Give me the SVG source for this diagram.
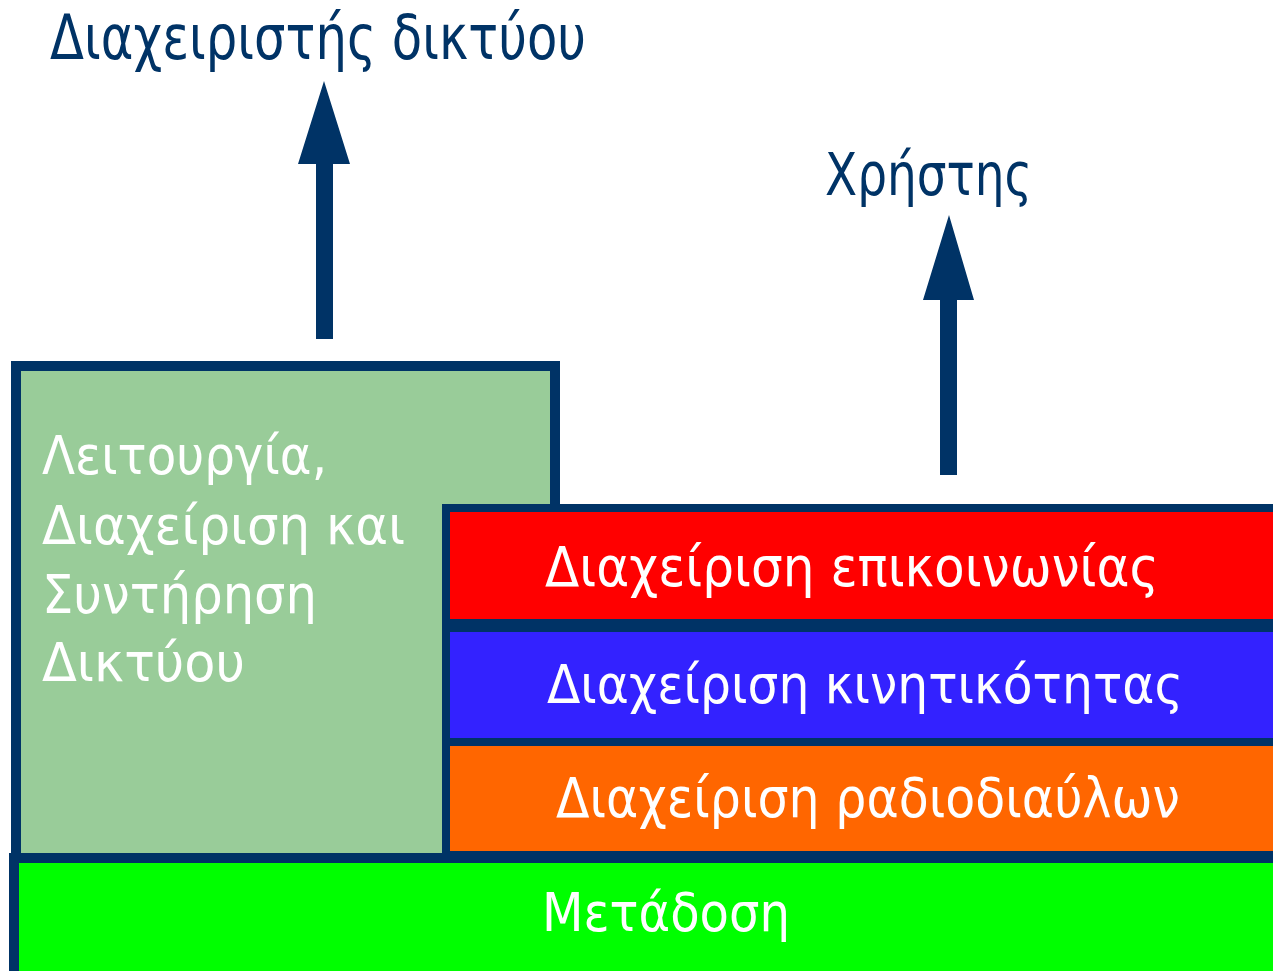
<svg xmlns="http://www.w3.org/2000/svg" width="1273" height="971" viewBox="0 0 1273 971">
<defs>
<style>
.box{stroke:#003366;}
.lbl{font-family:"DejaVu Sans","Liberation Sans",sans-serif;fill:#ffffff;}
.mid{text-anchor:middle;}
.head{font-family:"DejaVu Sans","Liberation Sans",sans-serif;fill:#003366;}
.arrow{fill:#003366;}
</style>
</defs>
<rect width="1273" height="971" fill="#ffffff"/>
<g id="node-lsm">
<rect class="box" x="16" y="366" width="539" height="500" fill="#99CC99" stroke-width="10"/>
<text class="lbl" font-size="54" x="42" y="474" textLength="285" lengthAdjust="spacingAndGlyphs">Λειτουργία,</text>
<text class="lbl" font-size="54" x="42" y="544" textLength="363" lengthAdjust="spacingAndGlyphs">Διαχείριση και</text>
<text class="lbl" font-size="54" x="42" y="613" textLength="275" lengthAdjust="spacingAndGlyphs">Συντήρηση</text>
<text class="lbl" font-size="54" x="42" y="681" textLength="203" lengthAdjust="spacingAndGlyphs">Δικτύου</text>
</g>
<g id="node-transmission">
<rect class="box" x="14" y="858" width="1264" height="118" fill="#00FF00" stroke-width="10"/>
<text class="lbl mid" font-size="54" x="666" y="931" textLength="248" lengthAdjust="spacingAndGlyphs">Μετάδοση</text>
</g>
<g id="node-communication">
<rect class="box" x="446" y="508" width="832" height="115" fill="#FF0000" stroke-width="8"/>
<text class="lbl mid" font-size="56" x="852" y="586" textLength="614" lengthAdjust="spacingAndGlyphs">Διαχείριση επικοινωνίας</text>
</g>
<g id="node-mobility">
<rect class="box" x="446" y="628" width="832" height="114" fill="#3322FF" stroke-width="8"/>
<text class="lbl mid" font-size="54" x="865" y="703" textLength="636" lengthAdjust="spacingAndGlyphs">Διαχείριση κινητικότητας</text>
</g>
<g id="node-radio">
<rect class="box" x="446" y="742" width="832" height="113" fill="#FF6600" stroke-width="8"/>
<text class="lbl mid" font-size="56" x="868" y="817" textLength="624" lengthAdjust="spacingAndGlyphs">Διαχείριση ραδιοδιαύλων</text>
</g>
<g id="node-operator">
<text class="head" font-size="63" x="50" y="59" textLength="536" lengthAdjust="spacingAndGlyphs">Διαχειριστής δικτύου</text>
</g>
<g id="node-user">
<text class="head" font-size="58" x="825" y="195" textLength="207" lengthAdjust="spacingAndGlyphs">Χρήστης</text>
</g>
<g id="connectors">
<polygon class="arrow" points="324,81 350,164 333,164 333,339 316,339 316,164 298,164"/>
<polygon class="arrow" points="949,215 974,300 957,300 957,475 940,475 940,300 923,300"/>
</g>
</svg>
